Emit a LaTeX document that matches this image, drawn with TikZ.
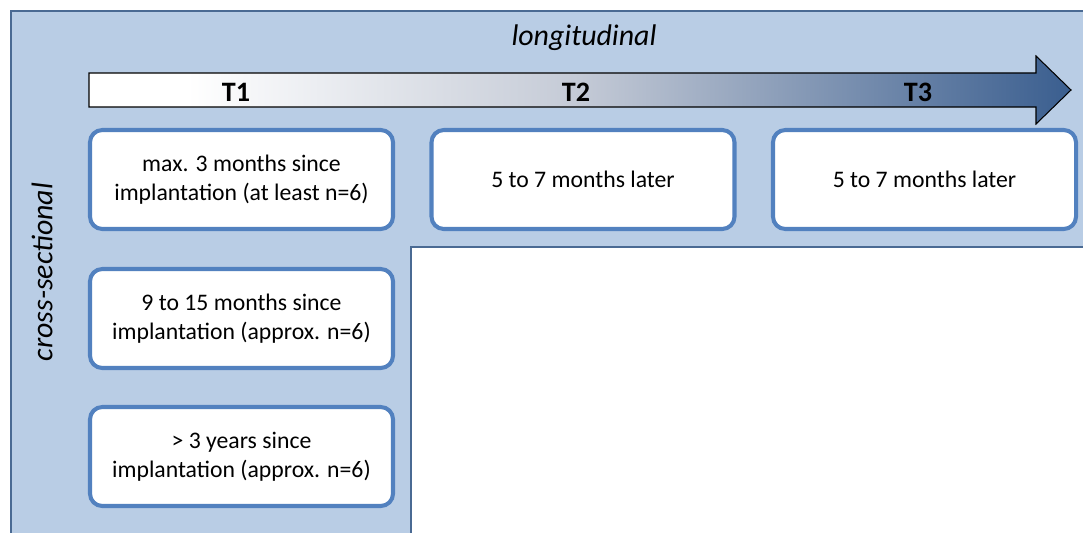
\documentclass[tikz,border=0pt]{standalone}
\usepackage{fontspec}
\setmainfont{Carlito}
\usepackage{xcolor}
\usetikzlibrary{positioning}

\definecolor{panelblue}{HTML}{B9CDE5}
\definecolor{paneledge}{HTML}{4A6A93}
\definecolor{boxedge}{HTML}{5281BF}
\definecolor{arrowmid}{HTML}{C4CAD6}
\definecolor{arrowblue}{HTML}{3A5E8F}

\pgfdeclarehorizontalshading{timeshade}{100bp}{color(0bp)=(white); color(30bp)=(white);
  color(50bp)=(arrowmid); color(75bp)=(arrowblue); color(100bp)=(arrowblue)}

\tikzset{
  phasebox/.style={draw=boxedge, line width=2.3pt, fill=white, rounded corners=7pt,
    minimum width=60.6mm, minimum height=19.8mm, inner sep=0pt, align=center,
    font=\fontsize{13.5}{16.6}\selectfont},
  timelabel/.style={font=\fontsize{16}{18}\selectfont\bfseries},
  axislabel/.style={font=\fontsize{17}{20}\selectfont\itshape}
}

\begin{document}
\begin{tikzpicture}[x=0.2mm, y=-0.2mm]

  \useasboundingbox (0,0) rectangle (1083,532);
  \clip (0,0) rectangle (1083,532);

  % L-shaped panel
  \draw[fill=panelblue, draw=paneledge, line width=1.6pt]
    (11,560) -- (11,11) -- (1100,11) -- (1100,247) -- (411,247) -- (411,560) -- cycle;

  % time arrow
  \path[draw=black, line width=0.6pt, shading=timeshade]
    (89,73) -- (1036,73) -- (1036,56) -- (1071,90) -- (1036,124) -- (1036,107) -- (89,107) -- cycle;

  \node[timelabel] (t1) at (236,92) {T1};
  \node[timelabel] (t2) at (576,92) {T2};
  \node[timelabel] (t3) at (918,92) {T3};

  \node[axislabel] (longi) at (584,38) {longitudinal};
  \node[axislabel, rotate=90] (cross) at (42,272) {cross-sectional};

  % T1 groups
  \node[phasebox] (early) at (241.5,179.5) {max. 3 months since\\implantation (at least n=6)};
  \node[phasebox] (middle) at (241.5,318.5) {9 to 15 months since\\implantation (approx. n=6)};
  \node[phasebox] (late) at (241.5,456.5) {> 3 years since\\implantation (approx. n=6)};

  % follow-ups
  \node[phasebox] (second) at (583,179.5) {5 to 7 months later};
  \node[phasebox] (third) at (924.5,179.5) {5 to 7 months later};

\end{tikzpicture}
\end{document}
